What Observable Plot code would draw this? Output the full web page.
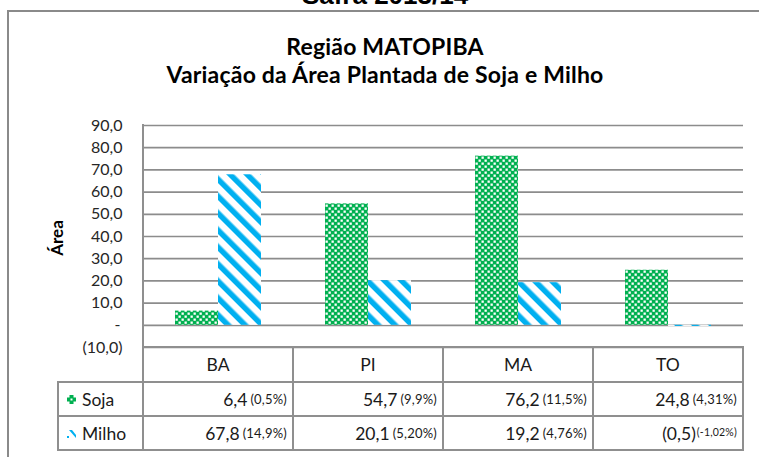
<!DOCTYPE html>
<html><head><meta charset="utf-8">
<script src="https://cdn.jsdelivr.net/npm/d3@7"></script>
<script src="https://cdn.jsdelivr.net/npm/@observablehq/plot@0.6"></script>
<style>
body{margin:0;background:#fff;}
#wrap{position:relative;width:759px;height:457px;overflow:hidden;font-family:Lato,sans-serif;color:#1e1e1e;}
#wrap svg.plot{position:absolute;left:0;top:0;}
.abs{position:absolute;}
#safra{left:0;width:770px;text-align:center;top:-18px;font:bold 26px/26px "Liberation Sans",Arial,sans-serif;color:#000;}
#frame{left:7px;top:10px;width:800px;height:500px;border-left:2px solid #8a8a8a;border-top:2px solid #8a8a8a;}
#title{left:0;width:770px;top:32px;text-align:center;font-weight:bold;font-size:23px;letter-spacing:0.2px;line-height:28px;color:#000;}
#ytitle{left:56px;top:238px;transform:translate(-50%,-50%) rotate(-90deg);font-weight:bold;font-size:17px;color:#000;white-space:nowrap;}
.cell{position:absolute;box-sizing:border-box;border:2px solid #8f8f8f;display:flex;align-items:center;font-size:17.5px;color:#1a1a1a;white-space:nowrap;}
.hdr{justify-content:center;}
.val{justify-content:flex-end;padding-right:5px;}
.lab{padding-left:8px;}
.pct{font-size:13px;margin-left:3px;letter-spacing:0.2px;}
.pct.sup{font-size:10.5px;align-self:flex-start;margin-top:9px;margin-left:1px;}
</style></head><body><div id="wrap">
<div id="frame" class="abs"></div>
<div id="safra" class="abs">Safra 2013/14</div>
<div id="title" class="abs">Região MATOPIBA<br>Variação da Área Plantada de Soja e Milho</div>
<div id="ytitle" class="abs">Área</div>
</div>
<script>
const categories = ["BA", "PI", "MA", "TO"];
const series = ["Soja", "Milho"];
const sojaValues = [6.4, 54.7, 76.2, 24.8];
const milhoValues = [67.8, 20.1, 19.2, -0.5];
const sojaPct = ["(0,5%)", "(9,9%)", "(11,5%)", "(4,31%)"];
const milhoPct = ["(14,9%)", "(5,20%)", "(4,76%)", "(-1,02%)"];
const yTicks = [-10, 0, 10, 20, 30, 40, 50, 60, 70, 80, 90];

const num = v => Math.abs(v).toFixed(1).replace(".", ",");
const fmtVal = v => v < 0 ? `(${num(v)})` : num(v);
const fmtTick = v => v === 0 ? "-\u2009" : fmtVal(v);

const rows = categories.flatMap((c, i) => [
  {cat: c, series: "Soja", value: sojaValues[i]},
  {cat: c, series: "Milho", value: milhoValues[i]}
]);

const plot = Plot.plot({
  width: 759, height: 457,
  marginLeft: 142, marginRight: 16, marginTop: 125, marginBottom: 110,
  style: {fontFamily: "Lato, sans-serif", fontSize: "16px", color: "#262626", background: "transparent", overflow: "visible"},
  fx: {domain: categories, padding: 0, axis: null, label: null},
  x: {domain: series, paddingInner: 0, paddingOuter: 0.727, axis: null},
  y: {domain: [-10, 90], ticks: yTicks, tickFormat: fmtTick, tickSize: 0, tickPadding: 21, label: null},
  marks: [
    Plot.ruleY(yTicks, {stroke: "#8c8c8c", strokeWidth: 1.7}),
    Plot.barY(rows.filter(d => d.series === "Soja"), {fx: "cat", x: "series", y: "value", fill: "url(#checker)", inset: 0}),
    Plot.barY(rows.filter(d => d.series === "Milho"), {fx: "cat", x: "series", y: "value", fill: "url(#stripes)", inset: 0})
  ]
});
plot.classList.add("plot");

const svg = d3.select(plot);
const defs = svg.insert("defs", ":first-child");
const ck = defs.append("pattern").attr("id", "checker").attr("patternUnits", "userSpaceOnUse").attr("width", 6).attr("height", 6);
ck.append("rect").attr("width", 6).attr("height", 6).attr("fill", "#00b050");
ck.append("rect").attr("x", 0.5).attr("y", 0.5).attr("width", 2.3).attr("height", 2.3).attr("fill", "#fff");
ck.append("rect").attr("x", 3.5).attr("y", 3.5).attr("width", 2.3).attr("height", 2.3).attr("fill", "#fff");
const st = defs.append("pattern").attr("id", "stripes").attr("patternUnits", "userSpaceOnUse").attr("width", 12).attr("height", 12).attr("patternTransform", "rotate(-45)");
st.append("rect").attr("width", 12).attr("height", 12).attr("fill", "#fff");
st.append("rect").attr("width", 5.5).attr("height", 12).attr("fill", "#00b0f0");

const wrap = document.getElementById("wrap");
wrap.insertBefore(plot, wrap.firstChild);

// data table below the chart, aligned with the plot's own scales
const fx = plot.scale("fx");
const y = plot.scale("y");
const bw = fx.bandwidth;
const top0 = y.apply(-10);
const hHdr = 35, hRow = 34;
const left0 = fx.apply(categories[0]);
const labLeft = 58;

function cell(x, yy, w, h, cls, html) {
  const d = document.createElement("div");
  d.className = "cell " + cls;
  d.style.left = (x - 1) + "px";
  d.style.top = (yy - 1) + "px";
  d.style.width = (w + 2) + "px";
  d.style.height = (h + 2) + "px";
  d.innerHTML = html;
  wrap.appendChild(d);
}
categories.forEach((c, i) => {
  const x0 = fx.apply(c);
  cell(x0, top0, bw, hHdr, "hdr", c);
  cell(x0, top0 + hHdr, bw, hRow, "val", `${fmtVal(sojaValues[i])}<span class="pct">${sojaPct[i]}</span>`);
  const neg = milhoValues[i] < 0;
  cell(x0, top0 + hHdr + hRow, bw, hRow, "val", `${fmtVal(milhoValues[i])}<span class="pct${neg ? " sup" : ""}">${milhoPct[i]}</span>`);
});
const iconSoja = `<svg width="9" height="9" style="margin-right:6px"><rect x="2.5" y="0" width="4" height="9" fill="#00b050"/><rect x="0" y="2.5" width="9" height="4" fill="#00b050"/><rect x="3.5" y="3.5" width="2" height="2" fill="#fff"/></svg>`;
const iconMilho = `<svg width="9" height="9" style="margin-right:6px"><path d="M2,1 L5,1 L9,6 L9,9 Z" fill="#00b0f0"/><rect x="0" y="7" width="2" height="2" fill="#00b0f0"/></svg>`;
cell(labLeft, top0 + hHdr, left0 - labLeft, hRow, "lab", iconSoja + series[0]);
cell(labLeft, top0 + hHdr + hRow, left0 - labLeft, hRow, "lab", iconMilho + series[1]);
// vertical axis line from top of plot to bottom of table
const ax = document.createElement("div");
ax.className = "abs";
ax.style.cssText = `left:${left0 - 1}px;top:${y.apply(90) - 1}px;width:2px;height:${top0 - y.apply(90)}px;background:#8f8f8f;`;
wrap.appendChild(ax);
</script>
</body></html>
